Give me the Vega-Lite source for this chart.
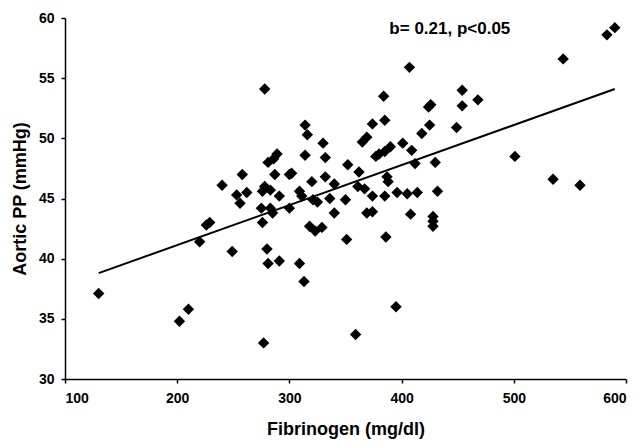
{
  "$schema": "https://vega.github.io/schema/vega-lite/v6.json",
  "width": 561,
  "height": 361,
  "autosize": "none",
  "padding": {"left": 65, "top": 18, "right": 15, "bottom": 62},
  "background": "white",
  "config": {
    "view": {"stroke": null},
    "font": "Liberation Sans",
    "axis": {
      "grid": false,
      "domainColor": "black",
      "domainWidth": 1.5,
      "tickColor": "black",
      "tickWidth": 1.5,
      "tickSize": 4,
      "labelFont": "Liberation Sans",
      "labelFontSize": 14,
      "labelFontWeight": "bold",
      "labelColor": "black",
      "titleFont": "Liberation Sans",
      "titleFontSize": 18,
      "titleFontWeight": "bold",
      "titleColor": "black"
    }
  },
  "datasets": {
    "pts": [
      {"fib": 130, "pp": 37.1}, {"fib": 202, "pp": 34.8}, {"fib": 210, "pp": 35.8}, {"fib": 220, "pp": 41.4},
      {"fib": 226, "pp": 42.8}, {"fib": 229, "pp": 43.0}, {"fib": 240, "pp": 46.1}, {"fib": 249, "pp": 40.6},
      {"fib": 253, "pp": 45.3}, {"fib": 256, "pp": 44.6}, {"fib": 258, "pp": 47.0}, {"fib": 262, "pp": 45.5},
      {"fib": 276, "pp": 43.0}, {"fib": 275, "pp": 44.2}, {"fib": 277, "pp": 33.0}, {"fib": 278, "pp": 54.1},
      {"fib": 276, "pp": 45.6}, {"fib": 278, "pp": 46.0}, {"fib": 280, "pp": 40.8}, {"fib": 281, "pp": 39.6},
      {"fib": 281, "pp": 48.0}, {"fib": 283, "pp": 45.7}, {"fib": 283, "pp": 44.2}, {"fib": 285, "pp": 43.8},
      {"fib": 286, "pp": 48.3}, {"fib": 289, "pp": 48.7}, {"fib": 287, "pp": 47.0}, {"fib": 291, "pp": 45.2},
      {"fib": 291, "pp": 39.8}, {"fib": 300, "pp": 47.0}, {"fib": 300, "pp": 44.2}, {"fib": 309, "pp": 45.6},
      {"fib": 309, "pp": 39.6}, {"fib": 313, "pp": 38.1}, {"fib": 314, "pp": 51.1}, {"fib": 316, "pp": 50.3},
      {"fib": 314, "pp": 48.6}, {"fib": 318, "pp": 42.7}, {"fib": 320, "pp": 46.4}, {"fib": 321, "pp": 44.9},
      {"fib": 323, "pp": 42.3}, {"fib": 325, "pp": 44.7}, {"fib": 329, "pp": 42.6}, {"fib": 330, "pp": 49.6},
      {"fib": 332, "pp": 48.4}, {"fib": 332, "pp": 46.8}, {"fib": 336, "pp": 45.0}, {"fib": 340, "pp": 46.2},
      {"fib": 340, "pp": 43.8}, {"fib": 350, "pp": 44.9}, {"fib": 351, "pp": 41.6}, {"fib": 352, "pp": 47.8},
      {"fib": 359, "pp": 33.7}, {"fib": 361, "pp": 46.0}, {"fib": 362, "pp": 47.2}, {"fib": 365, "pp": 49.7},
      {"fib": 369, "pp": 50.1}, {"fib": 367, "pp": 45.8}, {"fib": 369, "pp": 43.8}, {"fib": 374, "pp": 43.9},
      {"fib": 374, "pp": 51.2}, {"fib": 374, "pp": 45.2}, {"fib": 377, "pp": 48.5}, {"fib": 380, "pp": 48.7},
      {"fib": 384, "pp": 53.5}, {"fib": 385, "pp": 51.5}, {"fib": 385, "pp": 48.9}, {"fib": 385, "pp": 45.2},
      {"fib": 386, "pp": 41.8}, {"fib": 387, "pp": 46.8}, {"fib": 388, "pp": 46.4}, {"fib": 390, "pp": 49.3},
      {"fib": 395, "pp": 36.0}, {"fib": 396, "pp": 45.5}, {"fib": 401, "pp": 49.6}, {"fib": 405, "pp": 45.4},
      {"fib": 407, "pp": 55.9}, {"fib": 408, "pp": 43.7}, {"fib": 409, "pp": 49.0}, {"fib": 412, "pp": 47.9},
      {"fib": 414, "pp": 45.5}, {"fib": 418, "pp": 50.4}, {"fib": 424, "pp": 52.6}, {"fib": 426, "pp": 52.8},
      {"fib": 425, "pp": 51.1}, {"fib": 428, "pp": 43.5}, {"fib": 428, "pp": 43.1}, {"fib": 428, "pp": 42.7},
      {"fib": 430, "pp": 48.0}, {"fib": 432, "pp": 45.6}, {"fib": 449, "pp": 50.9}, {"fib": 454, "pp": 54.0},
      {"fib": 454, "pp": 52.7}, {"fib": 468, "pp": 53.2}, {"fib": 501, "pp": 48.5}, {"fib": 535, "pp": 46.6},
      {"fib": 544, "pp": 56.6}, {"fib": 559, "pp": 46.1}, {"fib": 583, "pp": 58.6}, {"fib": 590, "pp": 59.2},
      {"fib": 311, "pp": 45.2}, {"fib": 302, "pp": 47.1}
    ],
    "fit": [
      {"fib": 130, "pp": 38.8}, {"fib": 590, "pp": 54.1}
    ],
    "note": [
      {"fib": 443, "pp": 59.1, "label": "b= 0.21, p<0.05"}
    ]
  },
  "layer": [
    {
      "data": {"name": "pts"},
      "mark": {"type": "point", "shape": "diamond", "filled": true, "color": "black", "size": 130, "opacity": 1},
      "encoding": {
        "x": {"field": "fib", "type": "quantitative", "scale": {"domain": [100, 600], "nice": false}, "axis": {"values": [100, 200, 300, 400, 500, 600], "title": "Fibrinogen (mg/dl)", "titlePadding": 15, "labelPadding": 8}},
        "y": {"field": "pp", "type": "quantitative", "scale": {"domain": [30, 60], "nice": false, "zero": false}, "axis": {"values": [30, 35, 40, 45, 50, 55, 60], "title": "Aortic PP (mmHg)", "titlePadding": 9, "labelPadding": 7}}
      }
    },
    {
      "data": {"name": "fit"},
      "mark": {"type": "line", "color": "black", "strokeWidth": 2},
      "encoding": {
        "x": {"field": "fib", "type": "quantitative"},
        "y": {"field": "pp", "type": "quantitative"}
      }
    },
    {
      "data": {"name": "note"},
      "mark": {"type": "text", "fontSize": 17, "fontWeight": "bold", "color": "black", "align": "center", "baseline": "middle"},
      "encoding": {
        "x": {"field": "fib", "type": "quantitative"},
        "y": {"field": "pp", "type": "quantitative"},
        "text": {"field": "label"}
      }
    }
  ]
}
